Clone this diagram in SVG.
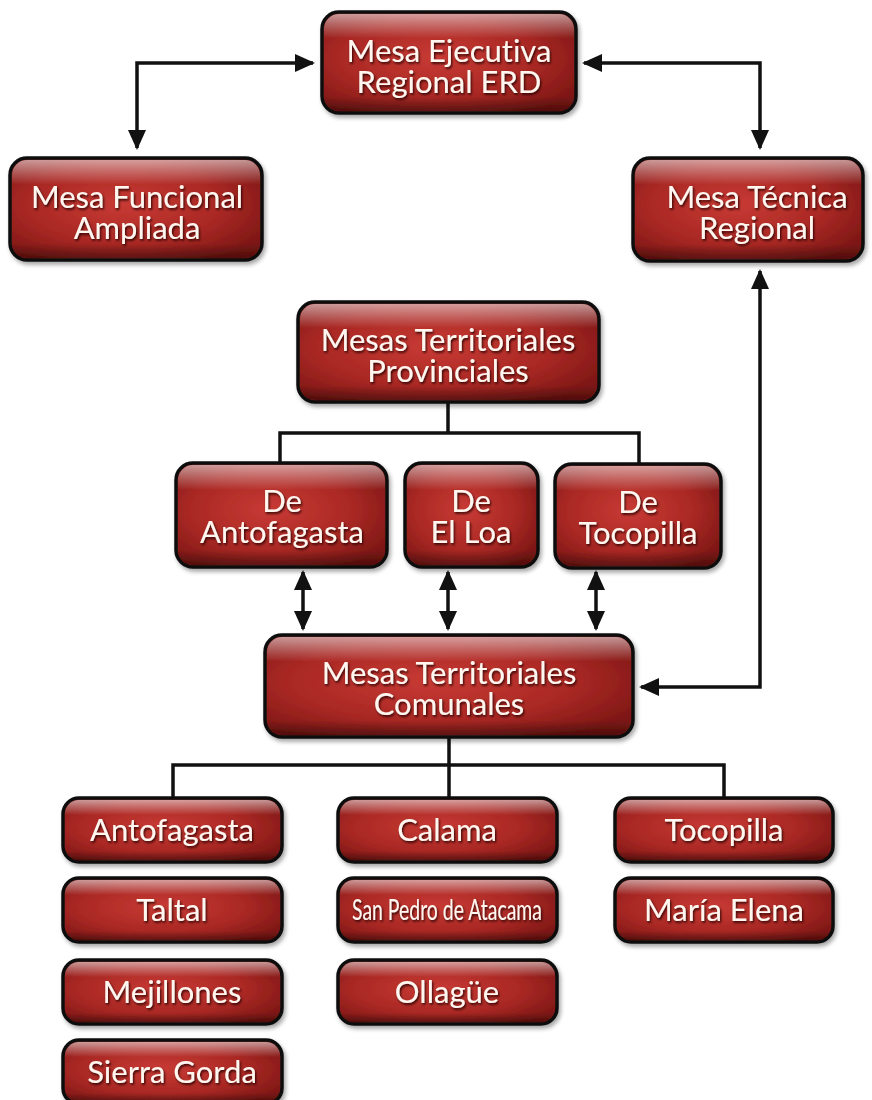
<svg xmlns="http://www.w3.org/2000/svg" width="872" height="1100" viewBox="0 0 872 1100">
<defs>
<radialGradient id="red" cx="0.45" cy="0.45" r="0.65">
<stop offset="0" stop-color="#c83a34"/>
<stop offset="0.6" stop-color="#a92824"/>
<stop offset="1" stop-color="#7c1614"/>
</radialGradient>
<linearGradient id="hl" x1="0" y1="0" x2="0" y2="1">
<stop offset="0" stop-color="#ffffff" stop-opacity="0.55"/>
<stop offset="0.25" stop-color="#ffffff" stop-opacity="0"/>
<stop offset="0.85" stop-color="#000000" stop-opacity="0"/>
<stop offset="1" stop-color="#000000" stop-opacity="0.35"/>
</linearGradient>
<filter id="ts" x="-10%" y="-30%" width="120%" height="160%">
<feDropShadow dx="1.2" dy="1.8" stdDeviation="0.9" flood-color="#2a0000" flood-opacity="0.9"/>
</filter>
<filter id="bs" x="-10%" y="-10%" width="125%" height="130%">
<feDropShadow dx="2" dy="3" stdDeviation="2" flood-color="#000" flood-opacity="0.35"/>
</filter>
<marker id="ah" viewBox="0 0 10 10" refX="9" refY="5" markerUnits="userSpaceOnUse" markerWidth="20" markerHeight="20" orient="auto-start-reverse">
<path d="M0,0.5 L10,5 L0,9.5 z" fill="#111"/>
</marker>
</defs>
<style>
.box{fill:url(#red);stroke:#111;stroke-width:3.5}
.hl{fill:url(#hl);stroke:none}
.t{font-family:Lato,"Open Sans","Liberation Sans",sans-serif;font-size:31px;fill:#fff6f0;text-anchor:middle;filter:url(#ts);font-variant-ligatures:none}
.c{fill:none;stroke:#111;stroke-width:3.5}
.aa{fill:none;stroke:#111;stroke-width:3.5;marker-end:url(#ah);marker-start:url(#ah)}
</style>

<g id="connectors">
<path class="aa" d="M137,148 V63 H313"/>
<path class="aa" d="M760,148 V63 H584"/>
<path class="aa" d="M760,271 V687 H641"/>
<path class="c" d="M448,403 V433 M280,463 V433 H639 V463"/>
<path class="aa" d="M303,572 V629"/>
<path class="aa" d="M448,572 V629"/>
<path class="aa" d="M596,572 V629"/>
<path class="c" d="M449,737 V765 M173,798 V765 H724 V798 M449,765 V798"/>
</g>

<g id="n-ejecutiva" filter="url(#bs)">
<rect class="box" x="322" y="12" width="254" height="101" rx="17"/>
<rect class="hl" x="324" y="14" width="250" height="97" rx="15"/>
<text class="t" x="449" y="62">Mesa Ejecutiva<tspan x="449" dy="31">Regional ERD</tspan></text>
</g>
<g id="n-funcional" filter="url(#bs)">
<rect class="box" x="10" y="158" width="252" height="102" rx="17"/>
<rect class="hl" x="12" y="160" width="248" height="98" rx="15"/>
<text class="t" x="137" y="208">Mesa Funcional<tspan x="137" dy="31">Ampliada</tspan></text>
</g>
<g id="n-tecnica" filter="url(#bs)">
<rect class="box" x="633" y="158" width="230" height="103" rx="17"/>
<rect class="hl" x="635" y="160" width="226" height="99" rx="15"/>
<text class="t" x="757" y="208">Mesa Técnica<tspan x="757" dy="31">Regional</tspan></text>
</g>
<g id="n-provinciales" filter="url(#bs)">
<rect class="box" x="298" y="302" width="301" height="100" rx="17"/>
<rect class="hl" x="300" y="304" width="297" height="96" rx="15"/>
<text class="t" x="448" y="351">Mesas Territoriales<tspan x="448" dy="31">Provinciales</tspan></text>
</g>
<g id="n-de-antofagasta" filter="url(#bs)">
<rect class="box" x="176" y="463" width="211" height="104" rx="17"/>
<rect class="hl" x="178" y="465" width="207" height="100" rx="15"/>
<text class="t" x="282" y="512">De<tspan x="282" dy="31">Antofagasta</tspan></text>
</g>
<g id="n-de-elloa" filter="url(#bs)">
<rect class="box" x="405" y="463" width="133" height="104" rx="17"/>
<rect class="hl" x="407" y="465" width="129" height="100" rx="15"/>
<text class="t" x="471" y="512">De<tspan x="471" dy="31">El Loa</tspan></text>
</g>
<g id="n-de-tocopilla" filter="url(#bs)">
<rect class="box" x="555" y="464" width="166" height="104" rx="17"/>
<rect class="hl" x="557" y="466" width="162" height="100" rx="15"/>
<text class="t" x="638" y="513">De<tspan x="638" dy="31">Tocopilla</tspan></text>
</g>
<g id="n-comunales" filter="url(#bs)">
<rect class="box" x="265" y="635" width="368" height="102" rx="17"/>
<rect class="hl" x="267" y="637" width="364" height="98" rx="15"/>
<text class="t" x="449" y="684">Mesas Territoriales<tspan x="449" dy="31">Comunales</tspan></text>
</g>
<g id="n-antofagasta" filter="url(#bs)">
<rect class="box" x="63" y="798" width="219" height="64" rx="16"/>
<rect class="hl" x="65" y="800" width="215" height="60" rx="14"/>
<text class="t" x="172" y="841">Antofagasta</text>
</g>
<g id="n-taltal" filter="url(#bs)">
<rect class="box" x="63" y="878" width="219" height="64" rx="16"/>
<rect class="hl" x="65" y="880" width="215" height="60" rx="14"/>
<text class="t" x="172" y="921">Taltal</text>
</g>
<g id="n-mejillones" filter="url(#bs)">
<rect class="box" x="63" y="960" width="219" height="64" rx="16"/>
<rect class="hl" x="65" y="962" width="215" height="60" rx="14"/>
<text class="t" x="172" y="1003">Mejillones</text>
</g>
<g id="n-sierragorda" filter="url(#bs)">
<rect class="box" x="63" y="1040" width="219" height="64" rx="16"/>
<rect class="hl" x="65" y="1042" width="215" height="60" rx="14"/>
<text class="t" x="172" y="1083">Sierra Gorda</text>
</g>
<g id="n-calama" filter="url(#bs)">
<rect class="box" x="338" y="798" width="219" height="64" rx="16"/>
<rect class="hl" x="340" y="800" width="215" height="60" rx="14"/>
<text class="t" x="447" y="841">Calama</text>
</g>
<g id="n-sanpedro" filter="url(#bs)">
<rect class="box" x="338" y="878" width="219" height="64" rx="16"/>
<rect class="hl" x="340" y="880" width="215" height="60" rx="14"/>
<text class="t" x="447" y="920" style="font-size:28px" textLength="190" lengthAdjust="spacingAndGlyphs">San Pedro de Atacama</text>
</g>
<g id="n-ollague" filter="url(#bs)">
<rect class="box" x="338" y="960" width="219" height="64" rx="16"/>
<rect class="hl" x="340" y="962" width="215" height="60" rx="14"/>
<text class="t" x="447" y="1003">Ollagüe</text>
</g>
<g id="n-tocopilla" filter="url(#bs)">
<rect class="box" x="615" y="798" width="218" height="64" rx="16"/>
<rect class="hl" x="617" y="800" width="214" height="60" rx="14"/>
<text class="t" x="724" y="841">Tocopilla</text>
</g>
<g id="n-mariaelena" filter="url(#bs)">
<rect class="box" x="615" y="878" width="218" height="64" rx="16"/>
<rect class="hl" x="617" y="880" width="214" height="60" rx="14"/>
<text class="t" x="724" y="921">María Elena</text>
</g>
</svg>
